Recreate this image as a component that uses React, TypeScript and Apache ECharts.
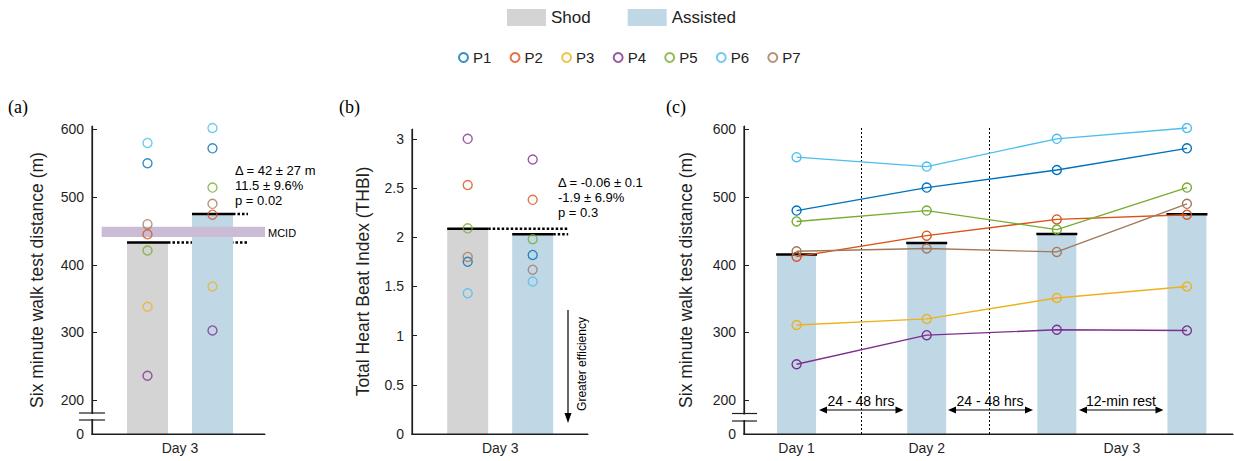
import React, { useEffect, useRef } from 'react';
import * as echarts from 'echarts';

const FONT = '"Liberation Sans", Arial, Helvetica, sans-serif';
const SERIF = '"Liberation Serif", "Times New Roman", serif';
const INK = '#1f1f1f';

// ---------- data ----------
const participants = ['P1', 'P2', 'P3', 'P4', 'P5', 'P6', 'P7'];
const pColors = ['#0072BD', '#D95319', '#EDB120', '#7E2F8E', '#77AC30', '#4DBEEE', '#A2785C'];
const conditions = ['Shod', 'Assisted'];
const condColors = ['#d4d4d4', '#c0d8e6'];
const condPos = [0, 1];

// (a) six minute walk test, day 3
const shodA = [550, 445, 338, 236, 421, 580, 460];
const assistA = [572, 474, 368, 303, 514, 602, 490];
const meanA = [433, 475];
const mcid = [441, 456];

// (b) total heart beat index, day 3 (P3 missing)
const shodB: (number | null)[] = [1.75, 2.53, null, 3.0, 2.09, 1.43, 1.8];
const assistB: (number | null)[] = [1.82, 2.38, null, 2.79, 1.98, 1.55, 1.67];
const meanB = [2.085, 2.03];

// (c) six minute walk test across sessions
const sessions = [1, 2, 3, 4];
const p1C = [480, 514, 540, 572];
const p2C = [412, 443, 467, 474];
const p3C = [311, 320, 351, 368];
const p4C = [253, 296, 304, 303];
const p5C = [464, 480, 452, 514];
const p6C = [559, 545, 586, 602];
const p7C = [420, 424, 419, 490];
const panelC = [p1C, p2C, p3C, p4C, p5C, p6C, p7C];
const meanC = [415, 432, 445.5, 474.5];
const dayLabels = ['Day 1', 'Day 2', 'Day 3'];
const dayLabelPos = [1, 2, 3.5];
const dayTickPos = [1, 2, 3];
const restDividers = [1.5, 2.48];

const walkTicks = [200, 300, 400, 500, 600];
const walkLabels = [150, 200, 300, 400, 500, 600];
const thbiTicks = [0, 0.5, 1, 1.5, 2, 2.5, 3];

function meanSolid(xi: number, data: number[][], hw: number) {
  return {
    type: 'custom',
    xAxisIndex: xi,
    yAxisIndex: xi,
    z: 4,
    silent: true,
    data,
    encode: { x: 0, y: 1 },
    renderItem: (_p: any, api: any) => {
      const p = api.coord([api.value(0), api.value(1)]);
      return {
        type: 'line',
        shape: { x1: p[0] - hw, y1: p[1], x2: p[0] + hw, y2: p[1] },
        style: { stroke: '#000', lineWidth: 2.5 },
      };
    },
  };
}

function meanDotted(xi: number, data: number[][], hw: number, lastX: number) {
  return {
    type: 'custom',
    xAxisIndex: xi,
    yAxisIndex: xi,
    z: 1,
    silent: true,
    data,
    encode: { x: 0, y: 1 },
    renderItem: (_p: any, api: any) => {
      const p = api.coord([api.value(0), api.value(1)]);
      const end = api.coord([lastX, api.value(1)])[0] + hw + 15;
      return {
        type: 'line',
        shape: { x1: p[0] + hw, y1: p[1], x2: end, y2: p[1] },
        style: { stroke: '#000', lineWidth: 2.5, lineDash: [2.5, 2] },
      };
    },
  };
}

function buildOption(): any {
  const grids = [
    { left: 92, top: 126, width: 173, height: 308 },
    { left: 412, top: 129, width: 176, height: 305 },
    { left: 744, top: 126, width: 489, height: 308 },
  ];
  const baseAxisLine = { show: true, onZero: false, lineStyle: { color: INK, width: 1.2 } };
  const labelStyle = { color: INK, fontSize: 14, fontFamily: FONT };

  const xAxis = [
    {
      type: 'value', gridIndex: 0, min: -0.854, max: 1.808,
      axisLine: baseAxisLine, axisTick: { show: false }, splitLine: { show: false },
      axisLabel: { ...labelStyle, margin: 7, customValues: [(condPos[0] + condPos[1]) / 2], formatter: () => 'Day 3' },
    },
    {
      type: 'value', gridIndex: 1, min: -0.857, max: 1.851,
      axisLine: baseAxisLine, axisTick: { show: false }, splitLine: { show: false },
      axisLabel: { ...labelStyle, margin: 7, customValues: [(condPos[0] + condPos[1]) / 2], formatter: () => 'Day 3' },
    },
    {
      type: 'value', gridIndex: 2, min: 0.596, max: 4.354,
      axisLine: baseAxisLine, splitLine: { show: false },
      axisTick: { show: true, inside: true, length: 4, lineStyle: { color: INK }, customValues: dayTickPos },
      axisLabel: {
        ...labelStyle, margin: 7, customValues: dayLabelPos,
        formatter: (v: number) => dayLabels[dayLabelPos.indexOf(v)] ?? '',
      },
    },
  ];

  const walkY = (gi: number, gap: number) => ({
    type: 'value', gridIndex: gi, min: 150, max: 605,
    name: 'Six minute walk test distance (m)', nameLocation: 'middle', nameGap: gap,
    nameTextStyle: { color: INK, fontSize: 17.5, fontFamily: FONT },
    axisLine: baseAxisLine, splitLine: { show: false },
    axisTick: { show: true, inside: true, length: 5, lineStyle: { color: INK }, customValues: walkTicks },
    axisLabel: { ...labelStyle, margin: 8, customValues: walkLabels, formatter: (v: number) => (v === 150 ? '0' : String(v)) },
  });

  const yAxis = [
    walkY(0, 46),
    {
      type: 'value', gridIndex: 1, min: 0, max: 3.1,
      name: 'Total Heart Beat Index (THBI)', nameLocation: 'middle', nameGap: 40,
      nameTextStyle: { color: INK, fontSize: 17.5, fontFamily: FONT },
      axisLine: baseAxisLine, splitLine: { show: false },
      axisTick: { show: true, inside: true, length: 5, lineStyle: { color: INK }, customValues: thbiTicks },
      axisLabel: { ...labelStyle, margin: 8, customValues: thbiTicks, formatter: (v: number) => String(v) },
    },
    walkY(2, 49),
  ];

  const series: any[] = [];

  const panelsAB = [
    { xi: 0, means: meanA },
    { xi: 1, means: meanB },
  ];
  panelsAB.forEach(({ xi, means }) => {
    conditions.forEach((c, k) => {
      series.push({
        type: 'bar', name: c, xAxisIndex: xi, yAxisIndex: xi, z: 2,
        barWidth: 41, barGap: '-100%', silent: true,
        itemStyle: { color: condColors[k] },
        data: [[condPos[k], means[k]]],
      });
    });
    const md = condPos.map((x, k) => [x, means[k]]);
    series.push(meanDotted(xi, md, 20.5, condPos[condPos.length - 1]));
    series.push(meanSolid(xi, md, 20.5));
  });

  series.push({
    type: 'custom', name: 'MCID', xAxisIndex: 0, yAxisIndex: 0, z: 3, silent: true,
    data: [[mcid[0], mcid[1]]],
    encode: { y: [0, 1] },
    renderItem: (params: any, api: any) => {
      const lo = api.coord([-0.705, api.value(0)]);
      const hi = api.coord([1.808, api.value(1)]);
      return {
        type: 'rect',
        shape: { x: lo[0], y: hi[1], width: hi[0] - lo[0], height: lo[1] - hi[1] },
        style: { fill: '#cbbcd6' },
      };
    },
  });

  const dot = (i: number) => ({
    symbol: 'circle', symbolSize: 9,
    itemStyle: { color: 'rgba(255,255,255,0)', borderColor: pColors[i], borderWidth: 1.4 },
  });
  participants.forEach((p, i) => {
    series.push({
      type: 'scatter', name: p, xAxisIndex: 0, yAxisIndex: 0, z: 5, silent: true, ...dot(i),
      data: [[condPos[0], shodA[i]], [condPos[1], assistA[i]]],
    });
    series.push({
      type: 'scatter', name: p, xAxisIndex: 1, yAxisIndex: 1, z: 5, silent: true, ...dot(i),
      data: [[condPos[0], shodB[i] ?? '-'], [condPos[1], assistB[i] ?? '-']],
    });
  });

  series.push({
    type: 'bar', name: 'Assisted', xAxisIndex: 2, yAxisIndex: 2, z: 2, silent: true,
    barWidth: 39, itemStyle: { color: condColors[1] },
    data: sessions.map((s, j) => [s, meanC[j]]),
    markLine: {
      silent: true, symbol: 'none', label: { show: false },
      lineStyle: { color: '#000', width: 1, type: [2, 2] },
      data: restDividers.map((x) => ({ xAxis: x })),
    },
  });
  series.push(meanSolid(2, sessions.map((s, j) => [s, meanC[j]]), 20.5));

  participants.forEach((p, i) => {
    series.push({
      type: 'line', name: p, xAxisIndex: 2, yAxisIndex: 2, z: 5, silent: true, ...dot(i),
      lineStyle: { color: pColors[i], width: 1.4 },
      data: sessions.map((s, j) => [s, panelC[i][j]]),
    });
  });

  const txt = (text: string, x: number, y: number, size: number, opts: any = {}) => ({
    type: 'text', x, y, silent: true, rotation: opts.rotation ?? 0,
    style: {
      text, x: 0, y: 0, fill: opts.fill ?? '#000', font: `${size}px ${opts.family ?? FONT}`,
      align: opts.align ?? 'left', verticalAlign: 'middle',
      textAlign: opts.align ?? 'left', textVerticalAlign: 'middle',
    },
  });

  const lineEl = (x1: number, y1: number, x2: number, y2: number, w = 1.2, color = '#000') => ({
    type: 'line', silent: true, z: 50, shape: { x1, y1, x2, y2 }, style: { stroke: color, lineWidth: w },
  });
  const poly = (pts: number[][]) => ({ type: 'polygon', silent: true, z: 50, shape: { points: pts }, style: { fill: '#000' } });
  const box = (x: number, y: number, w: number, h: number, fill: string, z = 100) => ({
    type: 'rect', silent: true, z, zlevel: 1, shape: { x, y, width: w, height: h }, style: { fill },
  });

  const dblArrow = (x1: number, x2: number, y: number) => [
    lineEl(x1 + 6, y, x2 - 6, y, 1.2),
    poly([[x1, y], [x1 + 8, y - 3.5], [x1 + 8, y + 3.5]]),
    poly([[x2, y], [x2 - 8, y - 3.5], [x2 - 8, y + 3.5]]),
  ];

  // axis break marks: gap in the spine plus two short strokes
  const breakMark = (ax: number, x1: number, x2: number, y1: number, y2: number) => [
    box(ax - 3, y1 + 1, 6, y2 - y1 - 2, '#fff', 110),
    box(x1, y1 - 0.6, x2 - x1, 1.2, INK, 111),
    box(x1, y2 - 0.6, x2 - x1, 1.2, INK, 111),
  ];

  // left and bottom spines of each panel
  const spines: any[] = [];
  grids.forEach((g) => {
    const b = g.top + g.height;
    spines.push(box(g.left - 0.6, g.top, 1.2, g.height + 0.6, INK));
    spines.push(box(g.left - 0.6, b - 0.6, g.width + 0.6, 1.2, INK));
  });

  const graphic = [
    txt('(a)', 8, 107, 18, { family: SERIF }),
    txt('(b)', 339, 107, 18, { family: SERIF }),
    txt('(c)', 666, 107, 18, { family: SERIF }),
    txt('Δ = 42 ± 27 m', 235, 170, 13),
    txt('11.5 ± 9.6%', 235, 185, 13),
    txt('p = 0.02', 235, 200, 13),
    txt('MCID', 268, 233, 11),
    txt('Δ = -0.06 ± 0.1', 558, 182, 13),
    txt('-1.9 ± 6.9%', 558, 197, 13),
    txt('p = 0.3', 558, 212, 13),
    lineEl(568, 310, 568, 414, 1.2),
    poly([[568, 423], [564.5, 413], [571.5, 413]]),
    txt('Greater efficiency', 582, 364, 12, { align: 'center', rotation: Math.PI / 2 }),
    ...dblArrow(819, 903.5, 410),
    txt('24 - 48 hrs', 861, 401, 14, { align: 'center' }),
    ...dblArrow(948, 1033, 410),
    txt('24 - 48 hrs', 990, 401, 14, { align: 'center' }),
    ...dblArrow(1079, 1163.5, 410),
    txt('12-min rest', 1121, 401, 14, { align: 'center' }),
    ...spines,
    ...breakMark(92, 79, 105, 413, 420),
    ...breakMark(744, 732, 757, 413.5, 421),
  ];

  return {
    animation: false,
    backgroundColor: '#fff',
    textStyle: { fontFamily: FONT },
    grid: grids,
    xAxis,
    yAxis,
    legend: [
      {
        left: 507, top: 9, padding: 0, itemWidth: 39, itemHeight: 17, itemGap: 37, selectedMode: false,
        textStyle: { fontSize: 17, color: '#222', fontFamily: FONT },
        data: conditions.map((c, k) => ({ name: c, icon: 'rect', itemStyle: { color: condColors[k] } })),
      },
      {
        left: 458, top: 50, padding: 0, itemWidth: 9, itemHeight: 9, itemGap: 18.2, selectedMode: false,
        textStyle: { fontSize: 15, color: '#222', fontFamily: FONT },
        data: participants.map((p, i) => ({
          name: p, icon: 'circle',
          itemStyle: { color: '#fff', borderColor: pColors[i], borderWidth: 2 },
        })),
      },
    ],
    series,
    graphic,
  };
}

export default function App() {
  const ref = useRef<HTMLDivElement>(null);
  useEffect(() => {
    if (!ref.current) return;
    const chart = echarts.init(ref.current, undefined, { renderer: 'svg' });
    chart.setOption(buildOption());
    return () => chart.dispose();
  }, []);
  return (
    <div
      ref={ref}
      style={{ position: 'fixed', left: 0, top: 0, width: 1234, height: 461, background: '#fff' }}
    />
  );
}
